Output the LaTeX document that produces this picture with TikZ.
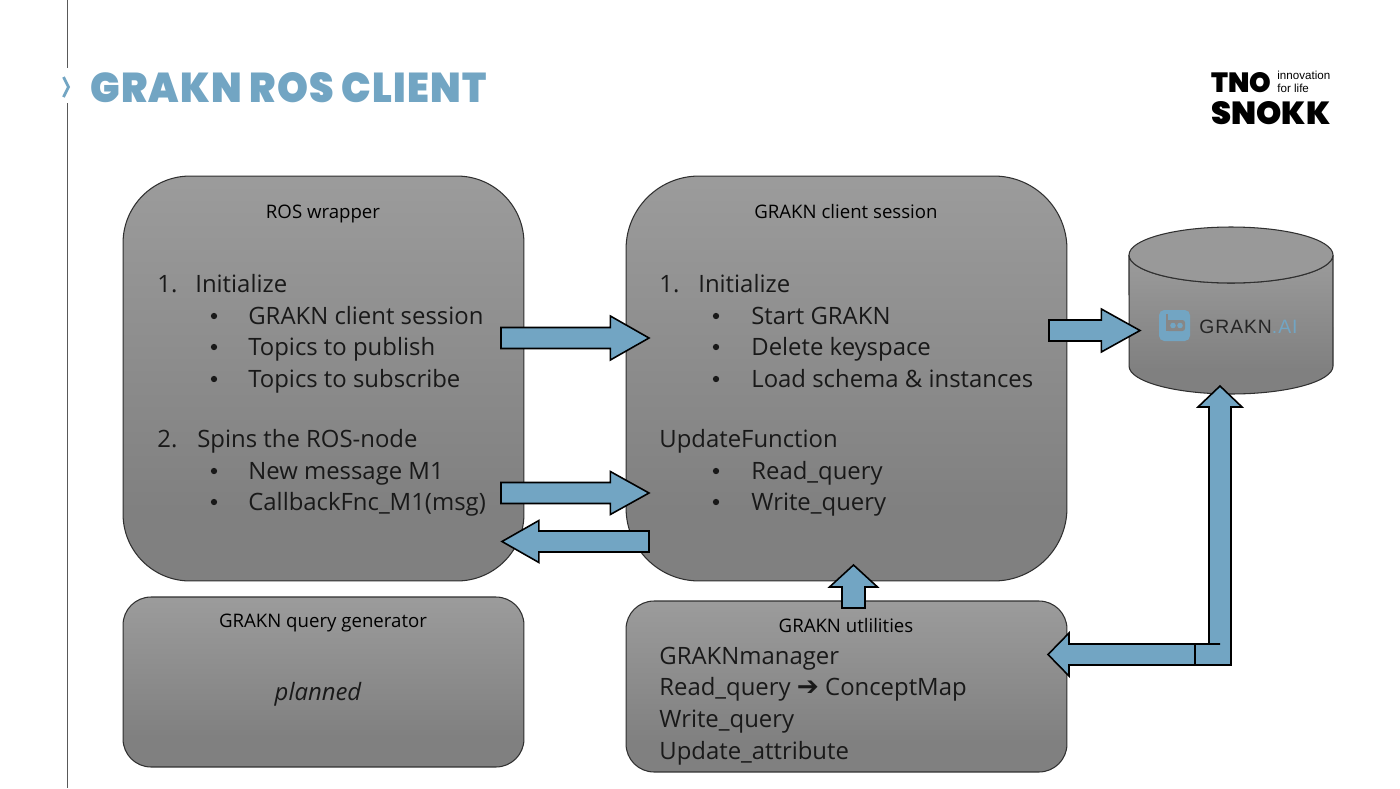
\documentclass[tikz,border=0pt]{standalone}
\usepackage{fontspec}
\usepackage{graphicx}
\usetikzlibrary{calc}
\setmainfont{Open Sans}
\newfontfamily\titlefont{Poppins Black}
\newfontfamily\logofont{Liberation Sans}
\newfontfamily\symfont{DejaVu Sans}
\definecolor{bluefill}{HTML}{72A5C3}
\definecolor{boxline}{HTML}{303030}
\pgfdeclareverticalshading{greybox}{100bp}{
  color(0bp)=(black!50!white); color(33bp)=(black!50!white);
  color(75bp)=(black!39!white); color(100bp)=(black!39!white)}
\tikzset{
  panel/.style={draw=boxline,line width=.6pt,shading=greybox,inner sep=0pt,outer sep=0pt},
  blockarrow/.style={draw=black,line width=.9pt,fill=bluefill,line join=miter,miter limit=10},
  body/.style={anchor=base west,inner sep=0pt,font=\fontsize{13.6}{15}\selectfont,text=black!90},
  head/.style={anchor=base,inner sep=0pt,font=\fontsize{10.6}{12}\selectfont,text=black},
  dotitem/.style={circle,fill=black!90,inner sep=0pt,minimum size=3.6pt}
}
% horizontal block arrow: start, end, half shaft, half head, head length (px)
\newcommand{\hblock}[5]{%
  \draw[blockarrow] let \p1=(#1),\p2=(#2),\n1={ifthenelse(\x2>\x1,1,-1)} in
    ($(#1)+(0,-#3)$) -- ($(#2)+(-\n1*#5,-#3)$) -- ($(#2)+(-\n1*#5,-#4)$) -- (#2)
    -- ($(#2)+(-\n1*#5,#4)$) -- ($(#2)+(-\n1*#5,#3)$) -- ($(#1)+(0,#3)$) -- cycle;}
\begin{document}
\begin{tikzpicture}[x=.02cm,y=-.02cm]
\useasboundingbox (0,0) rectangle (1400,788);
\fill[white] (0,0) rectangle (1400,788);

% side rule and title
\coordinate (ruleA) at (67,0); \coordinate (ruleB) at (67,68);
\coordinate (ruleC) at (67,103); \coordinate (ruleD) at (67,788);
\draw[black!65,line width=.5pt] (ruleA) -- (ruleB) (ruleC) -- (ruleD);
\draw[bluefill,line width=1.6pt] (63.5,77) -- (68.5,87) -- (63.5,97);
\node[anchor=base west,inner sep=0pt,text=bluefill] (title) at (90,102)
  {\resizebox{7.92cm}{.6cm}{\titlefont\addfontfeature{LetterSpace=3}GRAKN ROS CLIENT}};

% logos
\node[anchor=base west,inner sep=0pt,text=black] (tno) at (1211,92)
  {\resizebox{1.2cm}{.4cm}{\titlefont TNO}};
\node[anchor=base west,inner sep=0pt,text=black,align=left,font=\logofont\fontsize{6.6}{7.2}\selectfont] (innov) at (1277,92.5)
  {innovation\\for life};
\node[anchor=base west,inner sep=0pt,text=black] (snokk) at (1211,124)
  {\resizebox{2.38cm}{.46cm}{\titlefont SNOKK}};

% panels
\node[panel,minimum width=8.02cm,minimum height=8.1cm,rounded corners=1.34cm] (ros) at (323.5,378.5) {};
\node[panel,minimum width=8.82cm,minimum height=8.1cm,rounded corners=1.46cm] (session) at (846.5,378.5) {};
\node[panel,minimum width=8.02cm,minimum height=3.4cm,rounded corners=.56cm] (gen) at (323.5,682) {};
\node[panel,minimum width=8.82cm,minimum height=3.42cm,rounded corners=.56cm] (util) at (846.5,686.5) {};

% database
\shade[shading=greybox,draw=boxline,line width=.6pt]
  (1129,255) arc[start angle=180,end angle=360,x radius=2.04cm,y radius=.56cm]
  -- (1333,366) arc[start angle=360,end angle=180,x radius=2.04cm,y radius=.56cm] -- cycle;
\path[fill=black!40!white,draw=boxline,line width=.6pt]
  (1231,255) ellipse[x radius=2.04cm,y radius=.56cm];
\coordinate (db) at (1231,310);

% grakn.ai logo
\fill[bluefill,rounded corners=3pt] (1159,310) rectangle (1190,341);
\fill[black!47!white,rounded corners=1.5pt] (1166,320) rectangle (1185,331);
\fill[black!47!white] (1166,314) rectangle (1168,331);
\fill[bluefill] (1173,325.5) circle[radius=2.8] (1180,325.5) circle[radius=2.8];
\node[anchor=base west,inner sep=0pt] (grakn) at (1199,333)
  {\fontsize{11}{14}\selectfont\logofont\addfontfeature{LetterSpace=5}\textcolor{black!85}{GRAKN}\textcolor{bluefill}{.AI}};

% panel titles
\node[head] (tros) at (323,218) {ROS wrapper};
\node[head] (tses) at (846,218) {GRAKN client session};
\node[head] (tgen) at (323,627) {GRAKN query generator};
\node[head] (tutl) at (846,632) {GRAKN utlilities};

% ROS wrapper text
\node[body] (r1n) at (157,292) {1.};
\node[body] (r1) at (195,292) {Initialize};
\node[dotitem] (rb1) at (214,316) {}; \node[body] (r2) at (248,324) {GRAKN client session};
\node[dotitem] (rb2) at (214,347) {}; \node[body] (r3) at (248,355) {Topics to publish};
\node[dotitem] (rb3) at (214,379) {}; \node[body] (r4) at (248,387) {Topics to subscribe};
\node[body] (r5n) at (157,447) {2.};
\node[body] (r5) at (197,447) {Spins the ROS-node};
\node[dotitem] (rb4) at (214,471) {}; \node[body] (r6) at (248,479) {New message M1};
\node[dotitem] (rb5) at (214,502) {}; \node[body] (r7) at (248,510) {CallbackFnc\_M1(msg)};

% session text
\node[body] (s1n) at (659,292) {1.};
\node[body] (s1) at (698,292) {Initialize};
\node[dotitem] (sb1) at (716,316) {}; \node[body] (s2) at (751,324) {Start GRAKN};
\node[dotitem] (sb2) at (716,347) {}; \node[body] (s3) at (751,355) {Delete keyspace};
\node[dotitem] (sb3) at (716,379) {}; \node[body] (s4) at (751,387) {Load schema \& instances};
\node[body] (s5) at (659,447) {UpdateFunction};
\node[dotitem] (sb4) at (716,471) {}; \node[body] (s6) at (751,479) {Read\_query};
\node[dotitem] (sb5) at (716,502) {}; \node[body] (s7) at (751,510) {Write\_query};

% generator and utilities text
\node[body,anchor=base] (plan) at (318,700) {\itshape planned};
\node[body] (u1) at (659,664) {GRAKNmanager};
\node[body] (u2) at (659,695) {Read\_query {\symfont\fontsize{15}{15}\selectfont\char"2794} ConceptMap};
\node[body] (u3) at (659,727) {Write\_query};
\node[body] (u4) at (659,759) {Update\_attribute};

% connectors
\coordinate (a1s) at (501,338); \coordinate (a1e) at (649,338);
\hblock{a1s}{a1e}{10.5}{22}{22}
\coordinate (a2s) at (501,493); \coordinate (a2e) at (649,493);
\hblock{a2s}{a2e}{10.5}{21.5}{22}
\coordinate (a3s) at (649,541.5); \coordinate (a3e) at (502,541.5);
\hblock{a3s}{a3e}{10.5}{21}{21}
\coordinate (a4s) at (1049,330.5); \coordinate (a4e) at (1140,330.5);
\hblock{a4s}{a4e}{10.5}{21.5}{22}
% up arrow from utilities to session
\coordinate (a5s) at (853.5,608); \coordinate (a5e) at (853.5,565);
\draw[blockarrow] ($(a5s)+(-11.5,0)$) -- ($(a5e)+(-11.5,22)$) -- ($(a5e)+(-24,22)$) -- (a5e)
  -- ($(a5e)+(24,22)$) -- ($(a5e)+(11.5,22)$) -- ($(a5s)+(11.5,0)$) -- cycle;
% bent two-way arrow between utilities and database
\coordinate (a6s) at (1048,654.5); \coordinate (a6e) at (1220,386);
\draw[blockarrow] (a6s) -- ($(a6s)+(21,-21.5)$) -- ($(a6s)+(21,-10.5)$) -- (a6e |- 644,644) -- ++(-11,0)
  -- ($(a6e)+(-11,21)$) -- ($(a6e)+(-22,21)$) -- (a6e) -- ($(a6e)+(22,21)$) -- ($(a6e)+(11,21)$)
  -- ($(a6e)+(11,279)$) -- ($(a6s)+(21,10.5)$) -- ($(a6s)+(21,21.5)$) -- cycle;
\coordinate (seamA) at (1195,644); \coordinate (seamB) at (1195,665);
\draw[black,line width=.8pt] (seamA) -- (seamB);
\end{tikzpicture}
\end{document}
